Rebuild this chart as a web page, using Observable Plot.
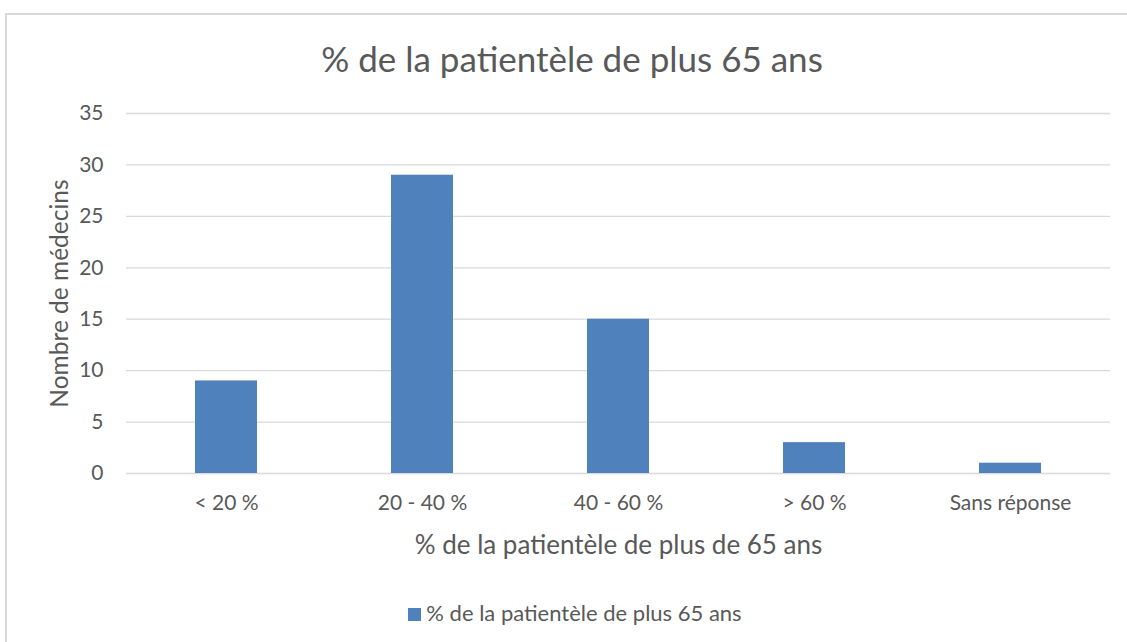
<!DOCTYPE html>
<html>
<head>
<meta charset="utf-8">
<script src="https://cdn.jsdelivr.net/npm/d3@7"></script>
<script src="https://cdn.jsdelivr.net/npm/@observablehq/plot@0.6"></script>
<style>
  html, body { margin: 0; padding: 0; background: #fff; }
  #wrap { position: relative; width: 1127px; height: 642px; overflow: hidden; font-family: Lato, "Open Sans", sans-serif; color: #595959; }
  #frame { position: absolute; left: 5px; top: 13px; width: 1140px; height: 660px; border: 2px solid #d9d9d9; box-sizing: border-box; }
  #title { position: absolute; left: 0; width: 1144px; top: 38px; text-align: center; font-size: 35px; line-height: 40px; }
  #legend { position: absolute; left: 0; width: 1150px; top: 600px; text-align: center; font-size: 22px; line-height: 26px; }
  #legend .sw { display: inline-block; width: 13px; height: 13px; margin-right: 5px; vertical-align: 0px; }
  #chart { position: absolute; left: 0; top: 0; }
</style>
</head>
<body>
<div id="wrap">
  <div id="frame"></div>
  <div id="chart"></div>
  <div id="title"></div>
  <div id="legend"></div>
</div>
<script>
const title = "% de la patientèle de plus 65 ans";
const categories = ["< 20 %", "20 - 40 %", "40 - 60 %", "> 60 %", "Sans réponse"];
const values = [9, 29, 15, 3, 1];
const yTicks = [0, 5, 10, 15, 20, 25, 30, 35];
const xLabel = "% de la patientèle de plus de 65 ans";
const yLabel = "Nombre de médecins";
const seriesName = "% de la patientèle de plus 65 ans";
const barColor = "#4f81bd";

const data = categories.map((c, i) => ({category: c, value: values[i]}));

const plot = Plot.plot({
  width: 1127,
  height: 642,
  marginLeft: 126,
  marginRight: 17,
  marginTop: 113,
  marginBottom: 169,
  style: {fontFamily: "Lato, 'Open Sans', sans-serif", fontSize: "21px", color: "#595959", background: "transparent"},
  x: {domain: categories, paddingInner: 0.684, paddingOuter: 0.342, label: null},
  y: {domain: [0, 35], label: null},
  marks: [
    Plot.ruleY(yTicks, {stroke: "#d9d9d9", strokeWidth: 1.3}),
    Plot.barY(data, {x: "category", y: "value", fill: barColor}),
    Plot.axisY({ticks: yTicks, tickSize: 0, tickPadding: 23, fontSize: 21, label: null}),
    Plot.axisX({tickSize: 0, tickPadding: 22, fontSize: 21, label: null}),
    Plot.text([xLabel], {frameAnchor: "bottom", dy: 80, fontSize: 26, text: d => d}),
    Plot.text([yLabel], {frameAnchor: "left", textAnchor: "middle", dx: -66, rotate: -90, fontSize: 24.5, text: d => d})
  ]
});
document.getElementById("chart").appendChild(plot);
document.getElementById("title").textContent = title;
const lg = document.getElementById("legend");
const sw = document.createElement("span");
sw.className = "sw";
sw.style.background = barColor;
lg.appendChild(sw);
lg.appendChild(document.createTextNode(seriesName));
</script>
</body>
</html>
